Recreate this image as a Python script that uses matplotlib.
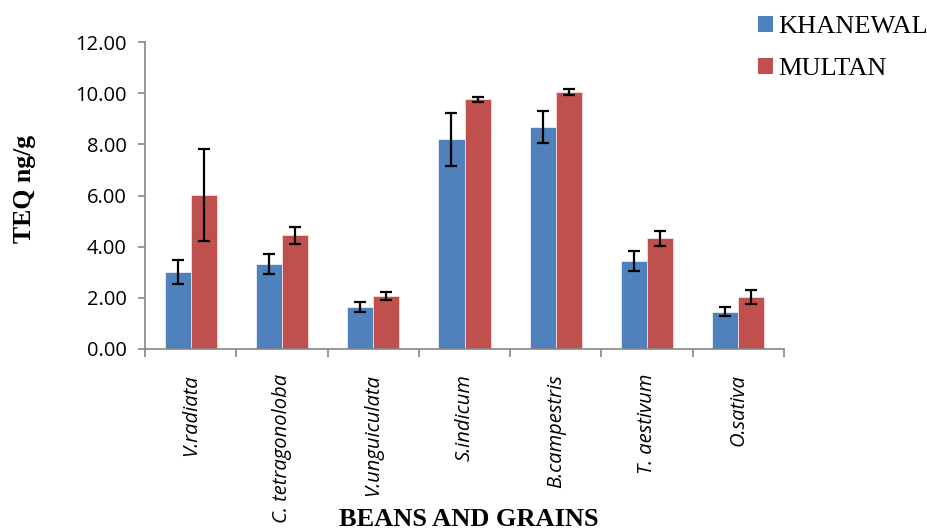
import matplotlib
matplotlib.use("Agg")
import matplotlib.pyplot as plt
import numpy as np
from matplotlib.patches import Patch

categories = ["V.radiata", "C. tetragonoloba", "V.unguiculata", "S.indicum",
              "B.campestris", "T. aestivum", "O.sativa"]
khanewal = [3.00, 3.32, 1.63, 8.20, 8.69, 3.45, 1.46]
khanewal_err = [0.47, 0.40, 0.19, 1.04, 0.63, 0.40, 0.18]
multan = [6.02, 4.44, 2.06, 9.76, 10.04, 4.33, 2.02]
multan_err = [1.80, 0.33, 0.16, 0.10, 0.11, 0.30, 0.27]
yticks = [0, 2, 4, 6, 8, 10, 12]

fig = plt.figure(figsize=(9.27, 5.32), dpi=100)
ax = fig.add_axes([145/927, 1-349/532, (784-145)/927, (349-42)/532])

x = np.arange(len(categories))
w = 0.285
ekw = dict(ecolor="black", elinewidth=1.6, capsize=4.5, capthick=1.6)
ax.bar(x - w/2, khanewal, w, yerr=khanewal_err, color="#4F81BD",
       edgecolor="#e8eef7", linewidth=0.6, label="KHANEWAL", error_kw=ekw)
ax.bar(x + w/2, multan, w, yerr=multan_err, color="#C0504D",
       edgecolor="#f5dddc", linewidth=0.6, label="MULTAN", error_kw=ekw)

ax.set_xlim(-0.5, len(categories) - 0.5)
ax.set_ylim(0, 12)
ax.set_yticks(yticks)
ax.set_yticklabels([f"{v:.2f}" for v in yticks], fontfamily="Open Sans", fontsize=14.5)

ax.set_xticks(np.arange(-0.5, len(categories)))
ax.set_xticklabels([])
ax.set_xticks(x, minor=True)
ax.set_xticklabels(categories, minor=True, rotation=90, fontstyle="italic",
                   fontfamily="Open Sans", fontsize=14.5, va="top", ha="center")
ax.tick_params(axis="x", which="minor", length=0, pad=18)
ax.tick_params(axis="x", which="major", length=6, width=1.2, color="#868686", direction="out")
ax.tick_params(axis="y", length=5, width=1.2, color="#868686", direction="out", pad=8)

for s in ["top", "right"]:
    ax.spines[s].set_visible(False)
for s in ["left", "bottom"]:
    ax.spines[s].set_color("#868686")
    ax.spines[s].set_linewidth(1.2)

fig.text(25/927, 1-189/532, "TEQ ng/g", rotation=90, fontfamily="Liberation Serif",
         fontweight="bold", fontsize=18.5, ha="center", va="center")
fig.text(469/927, 1-519/532, "BEANS AND GRAINS", fontfamily="Liberation Serif",
         fontweight="bold", fontsize=19, ha="center", va="center")

labels = ["KHANEWAL", "MULTAN"]
hs = [Patch(facecolor="#4F81BD"), Patch(facecolor="#C0504D")]
fig.legend(hs, labels, loc="upper left", bbox_to_anchor=(758/927, 1 - 16/532),
           frameon=False, prop={"family": "Liberation Serif", "size": 19},
           handlelength=0.55, handleheight=0.55, handletextpad=0.2, labelspacing=0.75,
           borderaxespad=0, borderpad=0)

fig.savefig("out.png", dpi=100)
